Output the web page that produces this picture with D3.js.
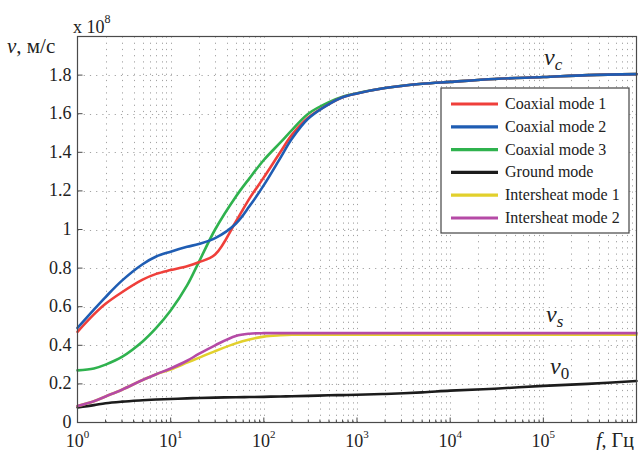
<!DOCTYPE html>
<html>
<head>
<meta charset="utf-8">
<script src="https://cdn.jsdelivr.net/npm/d3@7"></script>
<style>
  html, body { margin: 0; padding: 0; background: #fff; }
  svg { display: block; }
  text { font-family: "Liberation Serif", "Times New Roman", serif; fill: #222; }
</style>
</head>
<body>
<svg id="chart" width="640" height="450"></svg>
<script>
// Frequency samples, Hz
const freqs = [1, 1.5, 2, 3, 5, 7, 10, 15, 20, 30, 50, 70, 100, 150, 200, 300, 500, 700,
               1e3, 2e3, 5e3, 1e4, 3e4, 1e5, 3e5, 1e6];

// Propagation velocity of each mode, units of 1e8 m/s
const coaxial1 = [0.47, 0.56, 0.615, 0.675, 0.74, 0.77, 0.79, 0.81, 0.83, 0.87, 1.04, 1.16,
                  1.27, 1.40, 1.49, 1.58, 1.65, 1.685, 1.705, 1.733, 1.755, 1.765, 1.78, 1.79, 1.80, 1.805];
const coaxial2 = [0.49, 0.585, 0.65, 0.735, 0.82, 0.86, 0.885, 0.91, 0.925, 0.955, 1.03, 1.12,
                  1.23, 1.37, 1.47, 1.575, 1.65, 1.685, 1.705, 1.733, 1.755, 1.765, 1.78, 1.79, 1.80, 1.805];
const coaxial3 = [0.27, 0.28, 0.30, 0.34, 0.42, 0.49, 0.58, 0.71, 0.83, 1.00, 1.17, 1.265,
                  1.36, 1.45, 1.515, 1.60, 1.66, 1.688, 1.706, 1.733, 1.755, 1.765, 1.78, 1.79, 1.80, 1.805];
const groundMode = [0.078, 0.09, 0.10, 0.108, 0.115, 0.119, 0.122, 0.125, 0.127, 0.129, 0.131, 0.132,
                    0.133, 0.135, 0.136, 0.138, 0.141, 0.142, 0.144, 0.148, 0.156, 0.165, 0.175, 0.19, 0.20, 0.215];
const intersheath1 = [0.085, 0.11, 0.135, 0.17, 0.22, 0.25, 0.275, 0.31, 0.335, 0.37, 0.41, 0.43,
                      0.445, 0.452, 0.455, 0.455, 0.455, 0.455, 0.455, 0.455, 0.455, 0.455, 0.455, 0.455, 0.455, 0.455];
const intersheath2 = [0.085, 0.11, 0.135, 0.17, 0.22, 0.25, 0.28, 0.32, 0.355, 0.40, 0.448, 0.46,
                      0.463, 0.463, 0.463, 0.463, 0.463, 0.463, 0.463, 0.463, 0.463, 0.463, 0.463, 0.463, 0.463, 0.463];

const seriesNames = ["Coaxial mode 1", "Coaxial mode 2", "Coaxial mode 3",
                     "Ground mode", "Intersheat mode 1", "Intersheat mode 2"];
const seriesValues = [coaxial1, coaxial2, coaxial3, groundMode, intersheath1, intersheath2];
const seriesColors = ["#ef3f3a", "#1f5db3", "#2fb24e", "#1c1c1c", "#e2d02c", "#b54aa6"];
// drawing order: later entries sit on top
const drawOrder = [2, 0, 1, 3, 4, 5];

const xTickValues = [1, 10, 100, 1e3, 1e4, 1e5];
const yTickValues = [0, 0.2, 0.4, 0.6, 0.8, 1, 1.2, 1.4, 1.6, 1.8];

const svg = d3.select("#chart");
const plotLeft = 77.5, plotRight = 636.5, plotTop = 36.5, plotBottom = 422.5;

const x = d3.scaleLog().domain([1, 1e6]).range([plotLeft, plotRight]);
const y = d3.scaleLinear().domain([0, 2]).range([plotBottom, plotTop]);

// minor decade positions for grid and ticks
const minorX = [];
for (let e = 0; e < 6; e++) for (let m = 2; m <= 9; m++) minorX.push(m * Math.pow(10, e));

const grid = svg.append("g").attr("stroke", "#a3a3a3").attr("stroke-width", 1)
  .attr("stroke-dasharray", "1.2,5").attr("fill", "none");
grid.selectAll("line.vx").data(xTickValues.slice(1).concat(minorX)).join("line")
  .attr("x1", d => Math.round(x(d)) + 0.5).attr("x2", d => Math.round(x(d)) + 0.5)
  .attr("y1", plotTop).attr("y2", plotBottom);
grid.selectAll("line.hy").data(yTickValues.slice(1)).join("line")
  .attr("y1", d => Math.round(y(d)) + 0.5).attr("y2", d => Math.round(y(d)) + 0.5)
  .attr("x1", plotLeft).attr("x2", plotRight);

// curves
const line = d3.line()
  .x((d, i) => x(freqs[i]))
  .y(d => y(d))
  .curve(d3.curveCatmullRom.alpha(0.5));

const curves = svg.append("g").attr("fill", "none").attr("stroke-width", 2.6)
  .attr("stroke-linejoin", "round").attr("stroke-linecap", "round");
drawOrder.forEach(k => {
  curves.append("path").attr("d", line(seriesValues[k])).attr("stroke", seriesColors[k]);
});

// axes box
svg.append("rect").attr("x", plotLeft).attr("y", plotTop)
  .attr("width", plotRight - plotLeft).attr("height", plotBottom - plotTop)
  .attr("fill", "none").attr("stroke", "#4a4a4a").attr("stroke-width", 1.2);

// inward ticks
const ticks = svg.append("g").attr("stroke", "#4a4a4a").attr("stroke-width", 1);
ticks.selectAll("line.ty").data(yTickValues).join("line")
  .attr("x1", plotLeft).attr("x2", plotLeft + 5)
  .attr("y1", d => y(d)).attr("y2", d => y(d));
ticks.selectAll("line.tx").data(xTickValues).join("line")
  .attr("x1", d => x(d)).attr("x2", d => x(d))
  .attr("y1", plotBottom).attr("y2", plotBottom - 5);
ticks.selectAll("line.tm").data(minorX).join("line")
  .attr("x1", d => x(d)).attr("x2", d => x(d))
  .attr("y1", plotBottom).attr("y2", plotBottom - 3);

// y tick labels
svg.append("g").selectAll("text").data(yTickValues).join("text")
  .attr("x", plotLeft - 6).attr("y", d => y(d) + 5.5)
  .attr("text-anchor", "end").attr("font-size", 18)
  .text(d => d3.format("~g")(d));

// x tick labels as 10^n
const xl = svg.append("g").selectAll("text").data(xTickValues).join("text")
  .attr("x", d => x(d)).attr("y", 447)
  .attr("text-anchor", "middle").attr("font-size", 18);
xl.append("tspan").text("10");
xl.append("tspan").attr("dy", -9).attr("font-size", 11).text(d => Math.round(Math.log10(d)));

// axis titles
const yt = svg.append("text").attr("x", 7).attr("y", 53).attr("font-size", 21);
yt.append("tspan").attr("font-style", "italic").text("v");
yt.append("tspan").text(", м/с");

const mult = svg.append("text").attr("x", 73).attr("y", 33).attr("font-size", 18);
mult.append("tspan").text("x 10");
mult.append("tspan").attr("dy", -10).attr("font-size", 12).text("8");

const xt = svg.append("text").attr("x", 596).attr("y", 447).attr("font-size", 20);
xt.append("tspan").attr("font-style", "italic").text("f");
xt.append("tspan").text(", Гц");

// curve annotations
const annots = [["c", 544, 65], ["s", 546, 322], ["0", 550, 374]];
annots.forEach(([sub, ax, ay]) => {
  const t = svg.append("text").attr("x", ax).attr("y", ay).attr("font-size", 24).attr("font-style", "italic");
  t.append("tspan").text("v");
  t.append("tspan").attr("dy", 5).attr("font-size", 17).attr("font-style", sub === "0" ? "normal" : "italic").text(sub);
});

// legend
const lg = svg.append("g");
lg.append("rect").attr("x", 441).attr("y", 88).attr("width", 188).attr("height", 145)
  .attr("fill", "#fff").attr("stroke", "#444").attr("stroke-width", 1.2);
const rowY = d3.scaleLinear().domain([0, 5]).range([104, 218]);
seriesNames.forEach((name, i) => {
  lg.append("line").attr("x1", 451).attr("x2", 498).attr("y1", rowY(i)).attr("y2", rowY(i))
    .attr("stroke", seriesColors[i]).attr("stroke-width", 3.2);
  lg.append("text").attr("x", 505).attr("y", rowY(i) + 5).attr("font-size", 16).text(name);
});
</script>
</body>
</html>
